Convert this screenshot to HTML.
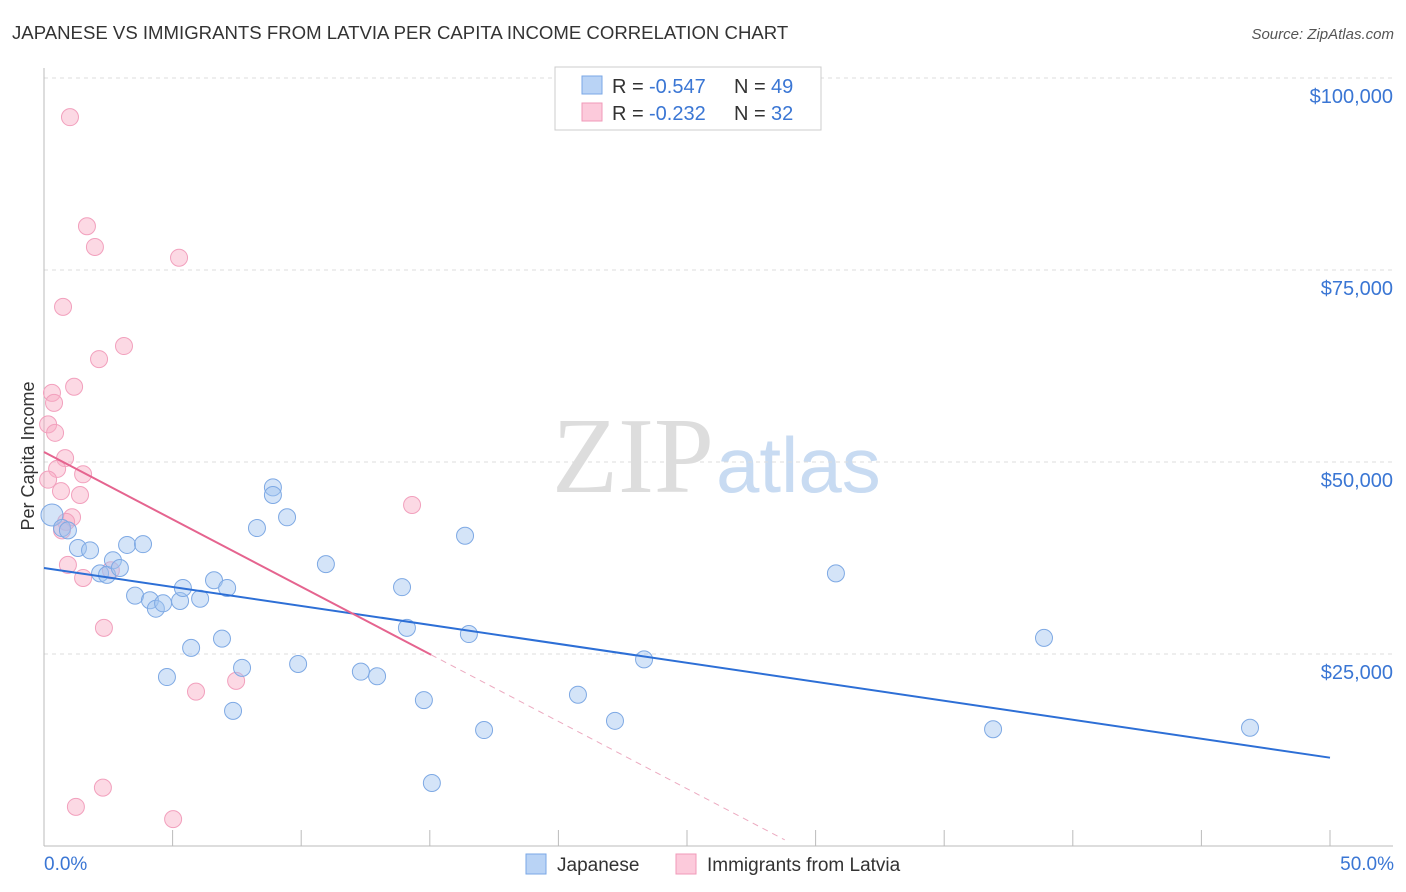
<!DOCTYPE html>
<html><head><meta charset="utf-8"><style>
body{margin:0;background:#fff;font-family:"Liberation Sans",sans-serif}
</style></head><body>
<svg id="c" width="1406" height="892" xmlns="http://www.w3.org/2000/svg" style="display:block">
<text x="12" y="39" font-size="18.6" fill="#333">JAPANESE VS IMMIGRANTS FROM LATVIA PER CAPITA INCOME CORRELATION CHART</text>
<text x="1394" y="39" font-size="15" fill="#555" text-anchor="end" font-style="italic">Source: ZipAtlas.com</text>
<text x="714" y="492" font-size="108" text-anchor="end" fill="#ddd" font-family="Liberation Serif">ZIP</text>
<text x="716" y="492" font-size="78" fill="#c8dbf2">atlas</text>
<text transform="translate(34,456) rotate(-90)" font-size="18" fill="#333" text-anchor="middle">Per Capita Income</text>
<g id="grid"></g><g id="pts"></g><g id="lines"></g>
<g>
<rect x="555" y="67" width="266" height="63" fill="#fff" stroke="#ccc"/>
<rect x="582" y="76" width="20" height="18" fill="#b9d3f5" stroke="#7aa7e6"/>
<rect x="582" y="103" width="20" height="18" fill="#fccadb" stroke="#f09ab8"/>
<text x="612" y="93" font-size="20" fill="#333">R =</text>
<text x="649" y="93" font-size="20" fill="#3a76d4">-0.547</text>
<text x="734" y="93" font-size="20" fill="#333">N =</text>
<text x="771" y="93" font-size="20" fill="#3a76d4">49</text>
<text x="612" y="120" font-size="20" fill="#333">R =</text>
<text x="649" y="120" font-size="20" fill="#3a76d4">-0.232</text>
<text x="734" y="120" font-size="20" fill="#333">N =</text>
<text x="771" y="120" font-size="20" fill="#3a76d4">32</text>
</g>
<g>
<rect x="526" y="854" width="20" height="20" fill="#b9d3f5" stroke="#7aa7e6"/>
<text x="557" y="871" font-size="19" fill="#333">Japanese</text>
<rect x="676" y="854" width="20" height="20" fill="#fccadb" stroke="#f09ab8"/>
<text x="707" y="871" font-size="19" fill="#333">Immigrants from Latvia</text>
</g>
</svg>
<script>
const yTicks=[25000,50000,75000,100000];
const yTickLabels=["$25,000","$50,000","$75,000","$100,000"];
const xTickLabels=["0.0%","50.0%"];
const japX=[0.31,0.70,0.93,1.32,1.79,2.18,2.45,2.68,2.95,3.23,3.85,3.54,4.12,4.35,4.63,4.78,5.29,5.40,5.72,6.07,6.61,6.92,7.12,7.35,7.70,8.28,8.90,8.90,9.45,9.88,10.96,12.32,12.95,13.92,14.11,14.77,15.08,16.37,16.52,17.11,20.76,22.20,23.33,30.79,36.90,38.88,46.89];
const japY=[43.1,41.4,41.1,38.8,38.5,35.5,35.3,37.2,36.2,39.2,39.3,32.6,32.0,30.9,31.6,22.0,31.9,33.6,25.8,32.2,34.6,27.0,33.6,17.6,23.2,41.4,46.7,45.7,42.8,23.7,36.7,22.7,22.1,33.7,28.4,19.0,8.2,40.4,27.6,15.1,19.7,16.3,24.3,35.5,15.2,27.1,15.4];
const latX=[1.01,1.67,1.98,5.25,0.74,3.11,2.14,1.17,0.31,0.39,0.16,0.43,0.82,0.51,1.52,0.16,0.66,1.40,1.09,0.86,0.70,0.93,1.52,2.60,2.33,5.91,7.47,14.31,1.24,2.29,5.02];
const latY=[94.9,80.7,78.0,76.6,70.2,65.1,63.4,59.8,59.0,57.7,54.9,53.8,50.5,49.1,48.4,47.7,46.2,45.7,42.8,42.2,41.1,36.6,34.9,35.9,28.4,20.1,21.5,44.4,5.1,7.6,3.5];
const japTrend=[[0,36.2],[50,11.5]];
const latTrend=[[0,51.3],[15.05,24.9]];
const latDash=[[15.05,24.9],[28.8,0.8]];
const NS="http://www.w3.org/2000/svg";
const X=p=>44+p*25.72, Y=k=>846-k*7.68;
function mk(t,a,p){const e=document.createElementNS(NS,t);for(const k in a)e.setAttribute(k,a[k]);p.appendChild(e);return e;}
const g=document.getElementById('grid');
yTicks.forEach((v,i)=>{const y=Y(v/1000);
 const l=mk('line',{x1:44,x2:1393,y1:y,y2:y,stroke:'#ddd','stroke-dasharray':'4,4'},g);
 
 
 const t=mk('text',{x:1393,y:y+25,'font-size':20,fill:'#3a76d4','text-anchor':'end'},g);t.textContent=yTickLabels[i];
 
 });
mk('line',{x1:44,x2:44,y1:68,y2:846,stroke:'#bbb'},g);
mk('line',{x1:44,x2:1393,y1:846,y2:846,stroke:'#bbb'},g);
for(let i=0;i<=10;i++){const x=X(i*5);mk('line',{x1:x,x2:x,y1:830,y2:846,stroke:'#bbb'},g);}
xTickLabels.forEach((s,i)=>{const t=mk('text',{x:i?1394:44,y:870,'font-size':19,fill:'#3a76d4','text-anchor':i?'end':'start'},g);t.textContent=s;
 
 });
const P=document.getElementById('pts');
latX.forEach((v,i)=>{const c=mk('circle',{cx:X(v),cy:Y(latY[i]),r:8.5,fill:'rgba(248,170,196,0.45)',stroke:'#f2a0bd','stroke-width':1},P);
 
 });
japX.forEach((v,i)=>{const c=mk('circle',{cx:X(v),cy:Y(japY[i]),r:i==0?11:8.5,fill:'rgba(160,196,240,0.45)',stroke:'#7ea9e4','stroke-width':1},P);
 
 });
const L=document.getElementById('lines');
function ln(d,s,w,da,n){const e=mk('line',{x1:X(d[0][0]),y1:Y(d[0][1]),x2:X(d[1][0]),y2:Y(d[1][1]),stroke:s,'stroke-width':w},L);if(da)e.setAttribute('stroke-dasharray',da);
 
 }
ln(japTrend,'#2d6fd6',2,null,'japanese-trendline');
ln(latTrend,'#e5648f',2,null,'latvia-trendline');
ln(latDash,'#ecaac0',1,'6,5','latvia-trendline-extension');
</script>
</body></html>
